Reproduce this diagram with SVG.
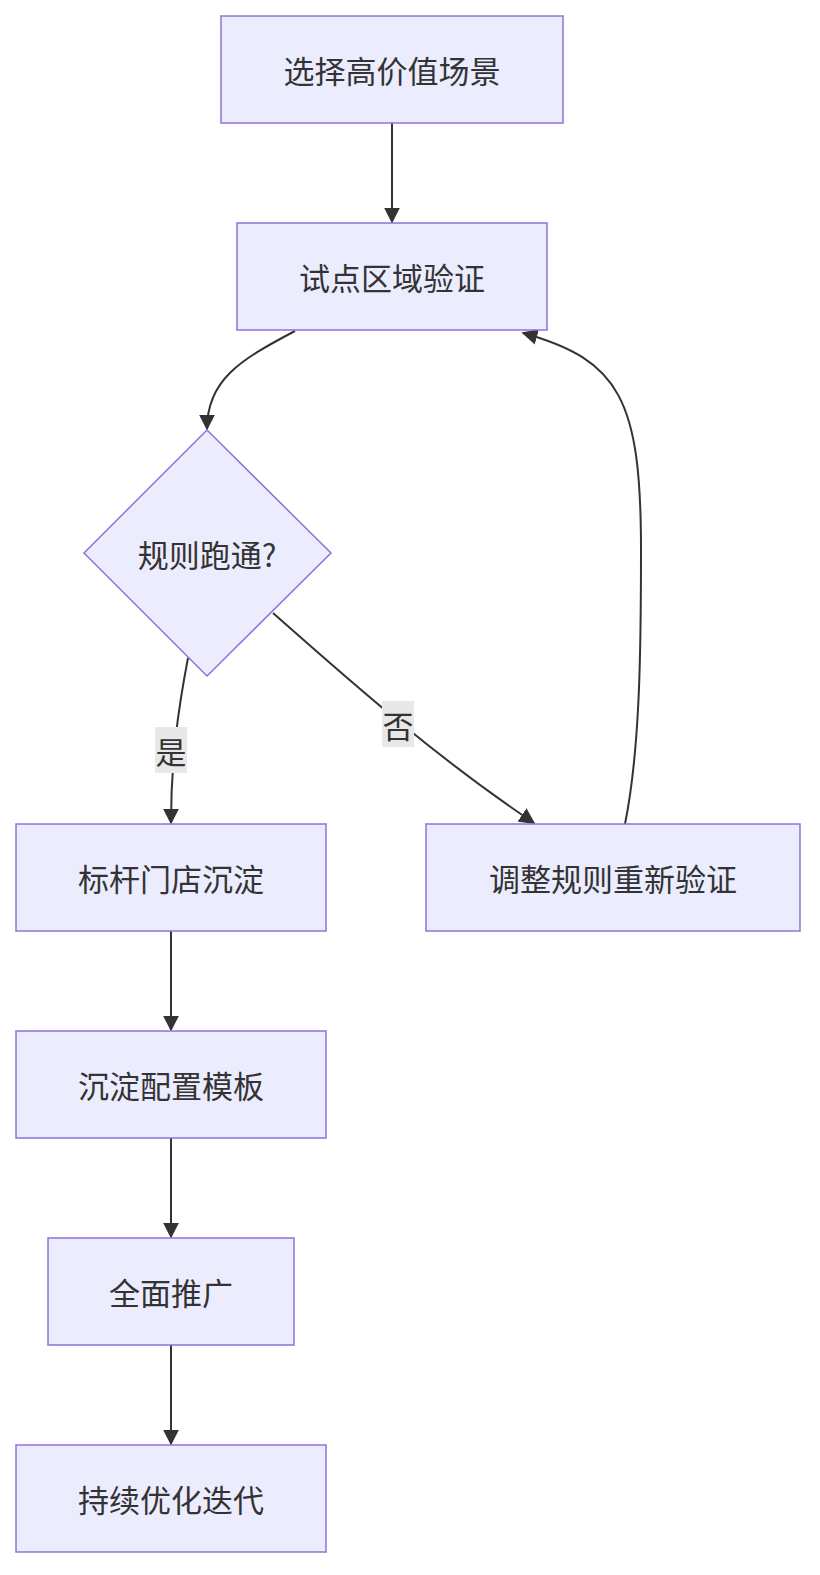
<svg xmlns="http://www.w3.org/2000/svg" width="820" height="1575" viewBox="0 0 820 1575">
<defs>
<style>
.n{fill:#ECECFF;stroke:#9370DB;stroke-width:1.5}
.t{font-family:"Noto Sans CJK SC","Noto Sans",sans-serif;font-size:31px;fill:#333;text-anchor:middle;dominant-baseline:central}
.e{fill:none;stroke:#333;stroke-width:2}
.lb{fill:#e8e8e8}
</style>
<marker id="a" viewBox="0 0 10 10" refX="9" refY="5" markerWidth="8" markerHeight="8" orient="auto-start-reverse"><path d="M0,0L10,5L0,10z" fill="#333"/></marker>
</defs>
<rect width="820" height="1575" fill="#fff"/>
<g id="edges">
<path class="e" d="M392,123L392,222" marker-end="url(#a)"/>
<path class="e" d="M295,331C240,360 207,380 207,429" marker-end="url(#a)"/>
<path class="e" d="M188,658C178,710 171,760 171,823" marker-end="url(#a)"/>
<path class="e" d="M273,613C360,690 440,760 534,823" marker-end="url(#a)"/>
<path class="e" d="M625,824C640,750 641,650 641,550C641,400 620,360 523,333" marker-end="url(#a)"/>
<path class="e" d="M171,931L171,1030" marker-end="url(#a)"/>
<path class="e" d="M171,1138L171,1237" marker-end="url(#a)"/>
<path class="e" d="M171,1345L171,1444" marker-end="url(#a)"/>
<rect class="lb" x="155" y="727" width="32" height="46"/>
<text class="t" x="171" y="750">是</text>
<rect class="lb" x="382" y="701" width="32" height="46"/>
<text class="t" x="398" y="724">否</text>
</g>
<g id="n1"><rect class="n" x="221" y="16" width="342" height="107"/><text class="t" x="392" y="69">选择高价值场景</text></g>
<g id="n2"><rect class="n" x="237" y="223" width="310" height="107"/><text class="t" x="392" y="276">试点区域验证</text></g>
<g id="n3"><polygon class="n" points="207,430 331,553 207,676 84,553"/><text class="t" x="207" y="553">规则跑通?</text></g>
<g id="n4"><rect class="n" x="16" y="824" width="310" height="107"/><text class="t" x="171" y="877">标杆门店沉淀</text></g>
<g id="n5"><rect class="n" x="426" y="824" width="374" height="107"/><text class="t" x="613" y="877">调整规则重新验证</text></g>
<g id="n6"><rect class="n" x="16" y="1031" width="310" height="107"/><text class="t" x="171" y="1084">沉淀配置模板</text></g>
<g id="n7"><rect class="n" x="48" y="1238" width="246" height="107"/><text class="t" x="171" y="1291">全面推广</text></g>
<g id="n8"><rect class="n" x="16" y="1445" width="310" height="107"/><text class="t" x="171" y="1498">持续优化迭代</text></g>
</svg>
